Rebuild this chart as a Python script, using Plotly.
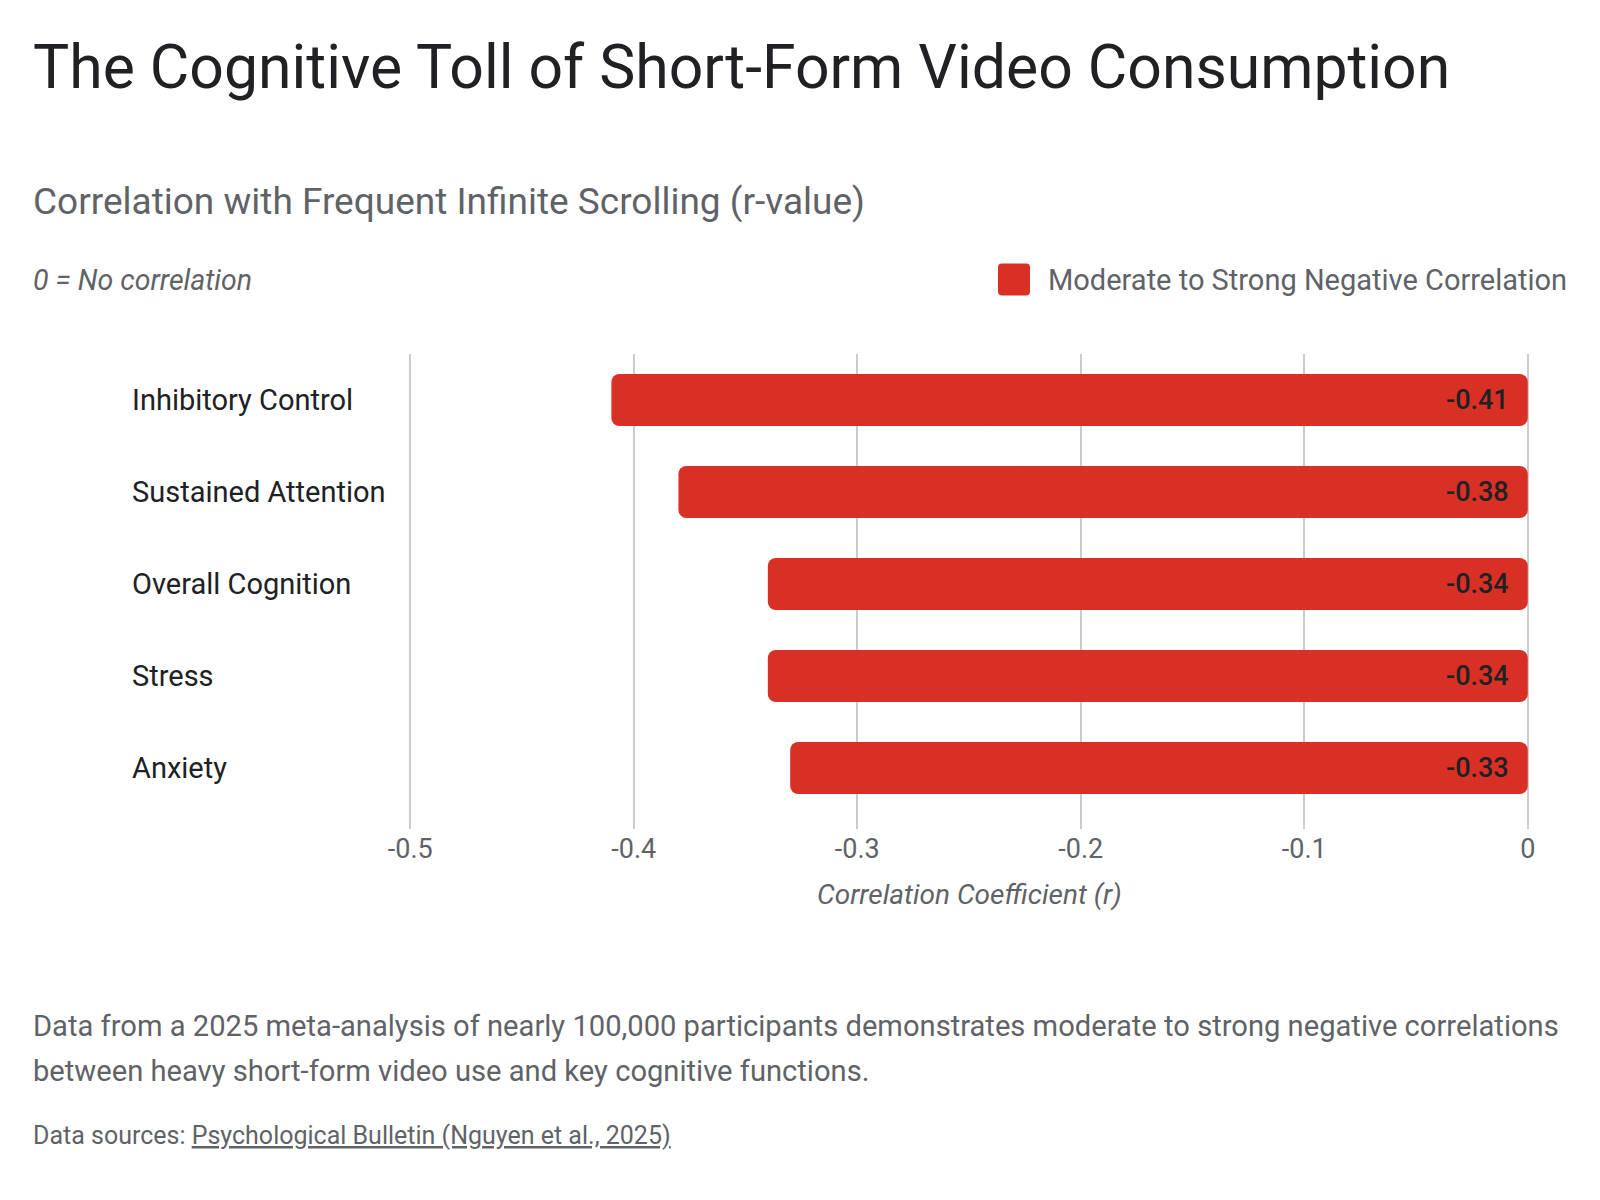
import plotly.graph_objects as go

categories = ["Inhibitory Control", "Sustained Attention", "Overall Cognition", "Stress", "Anxiety"]
r_values = [-0.41, -0.38, -0.34, -0.34, -0.33]
tick_vals = [-0.5, -0.4, -0.3, -0.2, -0.1, 0]
tick_text = ["-0.5", "-0.4", "-0.3", "-0.2", "-0.1", "0"]

W, H = 1600, 1200
ML, MR, MT, MB = 408, 70, 354, 371
PW, PH = W - ML - MR, H - MT - MB
ROW_PX = 92          # pixel pitch of one category row
BAR_PX = 52          # bar thickness in pixels
FONT = "Roboto"
RED = "#d93025"
DARK = "#202124"
GRAY = "#5f6368"


def px(x):
    return (x - ML) / PW


def py(y):
    return (H - MB - y) / PH


bar_w = BAR_PX / ROW_PX
y_bottom = -0.5 + PH / ROW_PX

fig = go.Figure()
# each bar drawn as two overlapping pieces so both ends get rounded corners
fig.add_trace(go.Bar(
    y=categories, x=[v * 0.6 for v in r_values], base=[v * 0.4 for v in r_values],
    orientation="h", marker=dict(color=RED, line=dict(width=0), cornerradius=8),
    width=bar_w, showlegend=False, hoverinfo="skip",
))
fig.add_trace(go.Bar(
    y=categories, x=[-v * 0.6 for v in r_values], base=[v * 0.6 for v in r_values],
    orientation="h", marker=dict(color=RED, line=dict(width=0), cornerradius=8),
    width=bar_w, name="Moderate to Strong Negative Correlation", showlegend=False,
    customdata=r_values, hovertemplate="%{y}: %{customdata}<extra></extra>",
))

ann = []
for c, v in zip(categories, r_values):
    ann.append(dict(x=0, y=c, xref="x", yref="y", text=f"{v:.2f}", showarrow=False,
                    xanchor="right", yanchor="middle", xshift=-17,
                    font=dict(family=FONT, size=27, color=DARK, weight=500)))
    ann.append(dict(x=px(130), y=c, xref="paper", yref="y", text=c, showarrow=False,
                    xanchor="left", yanchor="middle",
                    font=dict(family=FONT, size=29, color=DARK)))


def txt(text, x, y, size, color, anchor="left", style="normal", weight=400):
    ann.append(dict(x=px(x), y=py(y), xref="paper", yref="paper", text=text, showarrow=False,
                    xanchor=anchor, yanchor="middle",
                    font=dict(family=FONT, size=size, color=color, style=style, weight=weight)))


txt("The Cognitive Toll of Short-Form Video Consumption", 31, 67, 60.7, DARK)
txt("Correlation with Frequent Infinite Scrolling (r-value)", 31, 201, 37, GRAY)
txt("0 = No correlation", 31, 281, 28.5, GRAY, style="italic")
txt("Moderate to Strong Negative Correlation", 1046, 280, 29, GRAY)
txt("Correlation Coefficient (r)", 969, 894, 28, GRAY, anchor="center", style="italic")
txt("Data from a 2025 meta-analysis of nearly 100,000 participants demonstrates moderate to strong negative correlations",
    31, 1026, 29.15, GRAY)
txt("between heavy short-form video use and key cognitive functions.", 31, 1071, 29.15, GRAY)
txt("Data sources: <u>Psychological Bulletin (Nguyen et al., 2025)</u>", 31, 1135, 25, GRAY)

# legend swatch (rounded square)
r = 4
s = 16
path = (f"M {-s+r},{-s} L {s-r},{-s} Q {s},{-s} {s},{-s+r} L {s},{s-r} Q {s},{s} {s-r},{s} "
        f"L {-s+r},{s} Q {-s},{s} {-s},{s-r} L {-s},{-s+r} Q {-s},{-s} {-s+r},{-s} Z")
shapes = [dict(type="path", xref="paper", yref="paper", xsizemode="pixel", ysizemode="pixel",
               xanchor=px(1014), yanchor=py(279.5), path=path,
               fillcolor=RED, line=dict(width=0))]

fig.update_layout(
    width=W, height=H, margin=dict(l=ML, r=MR, t=MT, b=MB),
    paper_bgcolor="white", plot_bgcolor="white",
    barmode="overlay", showlegend=False,
    font=dict(family=FONT, color=GRAY),
    annotations=ann, shapes=shapes,
    xaxis=dict(range=[-0.501, 0.001], tickvals=tick_vals, ticktext=tick_text,
               showgrid=True, gridcolor="#cccccc", gridwidth=2, zeroline=False,
               showline=False, ticks="", tickfont=dict(family=FONT, size=27, color=GRAY),
               ticklabelstandoff=1, fixedrange=True),
    yaxis=dict(categoryorder="array", categoryarray=categories, range=[y_bottom, -0.5],
               showticklabels=False, showgrid=False, zeroline=False, showline=False,
               ticks="", fixedrange=True),
)

fig.write_html("out.html")
